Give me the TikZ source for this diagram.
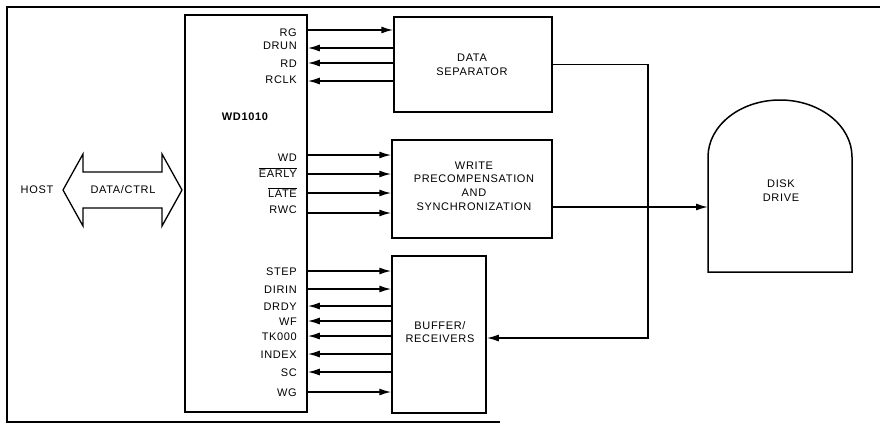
\documentclass[tikz,border=0pt]{standalone}
\usepackage{fontspec}
\setmainfont[LetterSpace=6]{Liberation Sans}
\usetikzlibrary{arrows.meta,positioning,calc}
\newcommand{\ovl}[1]{\ensuremath{\overline{\hbox{#1}}}}
\tikzset{
  >={Latex[length=12pt,width=7pt]},
  % blocks
  blk/.style={draw,line width=1.5pt,align=center,inner sep=0pt},
  txt/.style={align=center,inner sep=0pt},
  lbl/.style={anchor=east,inner sep=0pt,text height=8pt,text depth=0pt},
  % lines
  sig/.style={draw,line width=1.5pt},
  frame/.style={draw,line width=1.2pt},
}
\begin{document}
\begin{tikzpicture}[x=1pt,y=-1pt,every node/.append style={font=\fontsize{11}{13.8}\selectfont}]
  \useasboundingbox (0,0) rectangle (880,424);
  \draw[frame] (880,7) -- (7,7) -- (7,422) -- (500,422);
  % blocks
  \node[blk,minimum width=122pt,minimum height=397pt] (wd) at (246,213.5) {};
  \node[txt,font=\fontsize{11}{13.8}\selectfont\bfseries] (wdname) at (245,117) {WD1010};
  \node[blk,minimum width=158pt,minimum height=95pt] (sep) at (473,64.5) {};
  \node[txt] (septxt) at (472,65) {DATA\\SEPARATOR};
  \node[blk,minimum width=160pt,minimum height=98pt] (wpc) at (472,189) {};
  \node[txt] (wpctxt) at (474,186) {WRITE\\PRECOMPENSATION\\AND\\SYNCHRONIZATION};
  \node[blk,minimum width=94pt,minimum height=157pt] (buf) at (439,334.5) {};
  \node[txt] (buftxt) at (440,332) {BUFFER/\\RECEIVERS};
  % disk drive
  \draw[sig] (708,272) -- (708,157) arc[start angle=180,end angle=0,x radius=72pt,y radius=57pt]
    -- (852,272) -- cycle;
  \node[txt] (disk) at (781,191) {DISK\\DRIVE};
  \coordinate (dskin) at (708,207);
  % host bus
  \node[txt] (host) at (37,190) {HOST};
  \draw[sig,line width=1.3pt] (63,190) -- (83,154) -- (83,172) -- (162,172) -- (162,154)
    -- (182,190) -- (162,226) -- (162,208) -- (83,208) -- (83,226) -- cycle;
  \node[txt] (bus) at (123,190) {DATA/CTRL};
  % read side
  \foreach \ly/\ty/\t/\d [count=\i] in {30/32/RG/->,48/45/DRUN/<-,63/63/RD/<-,81/79/RCLK/<-}{
    \node[lbl] (r\i) at (297,\ty) {\t};
    \draw[sig,\d] (wd.east |- 0,\ly) -- (sep.west |- 0,\ly);
  }
  % write side
  \foreach \ly/\ty/\t/\d [count=\i] in {155/157/WD/->,174/173/{\ovl{EARLY}}/->,
      193/193/{\ovl{LATE}}/->,213/209/RWC/->}{
    \node[lbl] (w\i) at (297,\ty) {\t};
    \draw[sig,\d] (wd.east |- 0,\ly) -- (wpc.west |- 0,\ly);
  }
  % drive control
  \foreach \ly/\t/\d [count=\i] in {271/STEP/->,289/DIRIN/->,306/DRDY/<-,321/WF/<-,
      336/TK000/<-,354/INDEX/<-,372/SC/<-,392/WG/->}{
    \node[lbl] (c\i) at (297,\ly) {\t};
    \draw[sig,\d] (wd.east |- 0,\ly) -- (buf.west |- 0,\ly);
  }
  % to / from drive
  \coordinate (jn) at (648,338);
  \draw[sig,->] (sep.east) -| (jn) -- (buf.east |- jn);
  \draw[sig,->] (wpc.east |- dskin) -- (dskin);
\end{tikzpicture}
\end{document}
